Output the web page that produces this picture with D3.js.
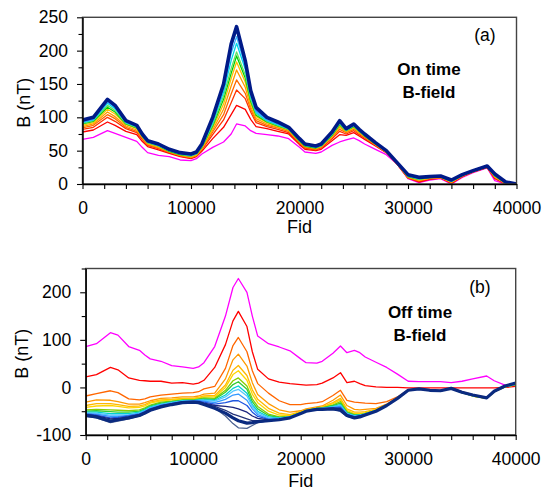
<!DOCTYPE html>
<html>
<head>
<meta charset="utf-8">
<script src="https://cdnjs.cloudflare.com/ajax/libs/d3/7.8.5/d3.min.js"></script>
<style>
body { margin: 0; background: #fff; }
svg text { font-family: "Liberation Sans", Arial, sans-serif; fill: #000; }
</style>
</head>
<body>
<script>
// fiducial positions the curves were read at (both panels share them)
var fid = [0,1000,2300,3000,4000,5000,5500,6000,7000,8000,
           9000,10000,10500,11000,12000,13000,13700,14200,15000,15500,
           16000,17000,18000,19000,20000,20500,21500,22000,23000,23700,
           24300,25000,25500,26000,27000,28000,29000,30000,31000,32000,
           33000,34000,35000,36000,37300,38000,39000,40000];

// (a) on time B-field, earliest channel (magenta) to latest (navy)
var onMagenta = [67,70,80,76,70,64,55,47,43,41, 36,35,38,45,55,63,75,90,87,80, 76,74,72,68,55,48,46,48,58,63, 66,69,65,60,52,44,30,8,2,6, 8,0,10,17,24,5,0,0];
var onRed     = [78,81,93,88,79,74,64,56,51,46, 41,38,41,49,68,85,104,118,112,97, 86,83,79,75,59,52,50,52,65,74, 73,77,72,67,57,47,30,9,3,7, 9,1,11,18,25,8,0,0];
var onRed2    = [82,85,100,94,83,77,67,58,53,47, 42,39,42,51,74,96,122,141,128,108, 92,86,82,77,61,54,51,54,68,79, 75,80,74,69,58,47,30,9,4,8, 9,2,11,18,25,9,1,0];
var onOrange  = [84,88,104,98,85,79,69,59,54,48, 43,40,43,52,78,104,135,156,136,112, 95,88,84,79,62,55,52,55,70,82, 77,82,76,70,59,48,30,10,5,8, 10,2,12,18,25,10,1,0];
var onOrange2 = [86,90,108,101,87,81,70,60,55,48, 43,40,43,53,81,112,147,171,145,116, 98,90,85,80,63,56,53,56,71,85, 78,84,77,71,59,48,31,10,6,9, 10,3,12,19,26,11,1,0];
var onYellow  = [88,92,112,105,89,83,71,61,56,49, 44,41,44,54,84,120,158,183,153,120, 101,92,86,81,64,57,54,56,72,87, 79,85,78,72,60,48,31,11,6,9, 10,3,12,19,26,11,1,0];
var onGreen   = [90,94,115,108,90,84,72,62,57,49, 44,42,45,55,87,127,166,192,159,124, 103,93,87,82,64,57,54,57,73,89, 80,86,79,72,60,49,31,11,7,10, 11,4,13,19,26,12,2,0];
var onGreen2  = [91,95,118,110,91,85,72,62,57,50, 45,42,45,56,89,132,173,198,164,127, 105,94,88,82,65,58,55,57,74,90, 80,87,79,73,61,49,31,12,7,10, 11,4,13,19,26,12,2,0];
var onCyan    = [92,96,121,113,92,86,73,63,58,50, 45,43,46,57,92,138,185,211,172,131, 107,95,89,83,66,58,55,58,75,92, 81,88,80,73,61,49,31,12,8,10, 11,4,13,20,26,13,2,0];
var onSky     = [93,97,123,115,93,87,74,63,58,51, 46,43,46,58,95,143,196,221,177,134, 109,96,90,84,66,59,56,58,76,93, 82,88,81,74,61,49,32,13,8,11, 12,5,14,20,27,13,2,0];
var onBlue    = [94,98,125,116,94,87,74,64,59,51, 46,44,47,59,97,146,205,230,181,137, 111,98,91,84,67,59,56,59,77,94, 82,89,81,74,62,50,32,13,9,11, 12,5,14,20,27,14,3,0];
var onNavy    = [96,100,127,118,95,88,75,65,60,52, 47,45,48,60,100,150,210,236,185,140, 115,100,93,85,68,60,57,60,78,95, 83,90,82,75,62,50,32,14,10,11, 12,6,14,20,27,15,3,0];

// (b) off time B-field
var offMagenta = [86,92,115,110,86,78,68,60,55,46, 43,40,43,52,86,150,210,229,200,150, 108,92,85,77,60,52,51,55,72,87, 73,78,73,64,53,42,28,13,12,12, 12,10,13,18,24,14,5,5];
var offRed     = [22,27,42,37,20,15,14,13,13,9, 10,7,9,15,42,90,140,160,128,75, 38,18,11,8,6,5,6,9,20,31, 10,13,8,4,1,0,0,-1,-1,-1, -1,-1,-1,-1,-1,-1,0,2];
var offOrange  = [-18,-13,-7,-11,-24,-26,-24,-20,-16,-14, -12,-11,-9,-3,2,40,88,105,75,35, 8,-12,-28,-36,-36,-34,-32,-30,-17,-6, -27,-31,-32,-33,-34,-30,-20,-5,-2,-5, -6,-1,-9,-15,-21,-7,2,7];
var offOrange2 = [-31,-26,-27,-30,-35,-35,-32,-28,-23,-22, -20,-20,-18,-14,-12,18,58,70,45,10, -15,-34,-47,-52,-49,-45,-41,-39,-27,-16, -38,-46,-47,-46,-44,-35,-22,-6,-3,-6, -7,-2,-10,-17,-22,-8,2,7];
var offOrange3 = [-38,-34,-34,-36,-40,-39,-36,-31,-26,-25, -23,-23,-21,-18,-17,5,36,46,25,-5, -25,-44,-54,-57,-51,-47,-43,-41,-32,-23, -45,-52,-52,-51,-46,-36,-22,-6,-3,-6, -7,-2,-11,-18,-23,-9,1,6];
var offYellow  = [-42,-39,-38,-40,-43,-42,-39,-33,-28,-26, -24,-24,-22,-20,-20,0,27,35,15,-14, -32,-50,-58,-59,-52,-48,-43,-42,-34,-26, -48,-55,-55,-53,-47,-36,-23,-6,-3,-6, -7,-2,-11,-18,-23,-9,1,6];
var offGreen   = [-47,-46,-47,-48,-49,-47,-43,-37,-31,-29, -26,-26,-24,-22,-23,-6,14,20,3,-24, -40,-56,-62,-61,-53,-48,-44,-43,-37,-30, -51,-57,-57,-55,-48,-37,-23,-6,-3,-6, -7,-2,-11,-18,-23,-9,1,6];
var offGreen2  = [-50,-49,-51,-52,-52,-50,-45,-39,-33,-30, -27,-27,-25,-24,-25,-10,6,12,-4,-30, -45,-59,-63,-62,-53,-49,-44,-43,-38,-33, -53,-58,-58,-55,-48,-37,-23,-6,-3,-6, -7,-2,-11,-17,-23,-9,1,6];
var offCyan    = [-52,-52,-55,-55,-55,-52,-47,-41,-35,-31, -28,-28,-26,-26,-27,-16,-2,3,-12,-36, -50,-62,-64,-62,-54,-49,-44,-44,-40,-36, -54,-59,-58,-56,-48,-37,-23,-6,-3,-6, -7,-2,-11,-17,-22,-8,2,7];
var offSky     = [-54,-54,-58,-58,-57,-54,-49,-43,-36,-32, -29,-28,-27,-27,-29,-20,-8,-4,-18,-40, -53,-64,-65,-62,-54,-49,-45,-44,-41,-38, -55,-60,-59,-56,-49,-37,-23,-6,-3,-6, -7,-2,-11,-17,-22,-8,2,7];
var offBlue    = [-55,-56,-61,-61,-59,-55,-50,-44,-37,-33, -30,-29,-28,-29,-32,-25,-16,-14,-27,-45, -57,-66,-66,-62,-54,-49,-45,-44,-42,-40, -56,-61,-59,-56,-49,-37,-23,-6,-3,-6, -7,-2,-10,-16,-22,-8,2,8];
var offBlue2   = [-56,-58,-64,-63,-60,-56,-51,-45,-38,-34, -30,-29,-29,-31,-35,-32,-28,-28,-38,-52, -61,-67,-66,-63,-54,-50,-45,-45,-43,-42, -57,-62,-60,-57,-49,-37,-23,-6,-3,-6, -7,-2,-10,-16,-22,-8,3,8];
var offNavy1   = [-57,-60,-66,-65,-62,-57,-52,-46,-39,-35, -31,-30,-30,-33,-38,-40,-42,-45,-52,-60, -65,-68,-67,-63,-55,-50,-45,-45,-44,-44, -58,-63,-60,-57,-49,-38,-23,-6,-3,-6, -7,-2,-10,-16,-22,-8,3,8];
var offNavy2   = [-59,-62,-69,-67,-63,-58,-53,-47,-40,-35, -31,-30,-31,-34,-40,-48,-56,-60,-66,-70, -70,-69,-67,-63,-55,-50,-46,-46,-45,-47, -59,-64,-61,-57,-50,-38,-23,-6,-3,-6, -7,-2,-10,-16,-22,-8,3,9];
var offNavy3   = [-61,-64,-74,-71,-66,-60,-55,-49,-41,-36, -32,-31,-32,-36,-43,-60,-76,-85,-86,-80, -74,-70,-68,-64,-55,-50,-46,-46,-46,-50, -61,-65,-62,-58,-50,-38,-23,-6,-3,-6, -7,-2,-10,-16,-22,-8,3,9];
var offNavy    = [-59,-62,-71,-68,-64,-59,-54,-48,-41,-36, -32,-31,-32,-36,-44,-54,-64,-70,-75,-74, -72,-70,-68,-64,-55,-50,-46,-46,-45,-48, -59,-64,-62,-58,-50,-38,-23,-6,-3,-6, -7,-2,-10,-16,-22,-8,3,9];

// tick values
var fidTicks = d3.range(0, 40001, 2000);
var onTicks = d3.range(0, 251, 25);
var offTicks = d3.range(-100, 251, 50);

var svg = d3.select('body').append('svg')
    .attr('width', 542).attr('height', 493)
    .style('display', 'block');

function drawPanel(cfg){
    var x = d3.scaleLinear().domain([0, 40000]).range([cfg.left, cfg.right]);
    var y = d3.scaleLinear().domain(cfg.yDomain).range([cfg.bottom, cfg.top]);
    var g = svg.append('g');

    var line = d3.line()
        .x(function(d, i){ return x(fid[i]); })
        .y(function(d){ return y(d); });

    // clip so the thick line does not spill over the frame
    var clipId = 'clip' + cfg.name;
    g.append('clipPath').attr('id', clipId).append('rect')
        .attr('x', cfg.left).attr('y', cfg.top)
        .attr('width', cfg.right - cfg.left).attr('height', cfg.bottom - cfg.top);

    var lines = g.append('g').attr('clip-path', 'url(#' + clipId + ')');
    cfg.series.forEach(function(s){
        lines.append('path')
            .attr('d', line(s.values))
            .attr('fill', 'none')
            .attr('stroke', s.color)
            .attr('stroke-width', s.width || 1.3)
            .attr('stroke-linejoin', 'round');
    });

    // frame
    g.append('rect')
        .attr('x', cfg.left).attr('y', cfg.top)
        .attr('width', cfg.right - cfg.left).attr('height', cfg.bottom - cfg.top)
        .attr('fill', 'none').attr('stroke', '#444').attr('stroke-width', 1.4);

    var xAxis = g.append('g')
        .attr('transform', 'translate(0,' + cfg.bottom + ')')
        .call(d3.axisBottom(x).tickValues(fidTicks).tickSize(5).tickSizeOuter(0).tickPadding(12)
            .tickFormat(function(d){ return d % 10000 === 0 ? d : ''; }));

    var yAxis = g.append('g')
        .attr('transform', 'translate(' + cfg.left + ',0)')
        .call(d3.axisLeft(y).tickValues(cfg.yTicks).tickSize(5.5).tickSizeOuter(0).tickPadding(9)
            .tickFormat(function(d){ return d % cfg.yLabelStep === 0 ? d : ''; }));
    yAxis.selectAll('.tick').filter(function(d){ return d % cfg.yLabelStep !== 0; })
        .select('line').attr('x2', -4);

    [xAxis, yAxis].forEach(function(a){
        a.attr('font-family', null).attr('font-size', null);
        a.select('.domain').attr('stroke', '#000').attr('stroke-width', 1.4);
        a.selectAll('.tick line').attr('stroke', '#000').attr('stroke-width', 1.1);
        a.selectAll('.tick text').style('font-size', '17.5px');
    });
    xAxis.selectAll('.tick text').attr('dy', null).attr('y', 33.5 - 4);

    g.append('text')
        .attr('x', (cfg.left + cfg.right) / 2).attr('y', cfg.fidY)
        .attr('text-anchor', 'middle').style('font-size', '18px')
        .text('Fid');

    g.append('text')
        .attr('transform', 'translate(' + cfg.bLabelX + ',' + ((cfg.top + cfg.bottom) / 2 + 2) + ') rotate(-90)')
        .attr('text-anchor', 'middle').style('font-size', '18px')
        .text('B (nT)');

    g.append('text')
        .attr('x', cfg.tagX).attr('y', cfg.tagY)
        .attr('text-anchor', 'middle').style('font-size', '17.5px')
        .text(cfg.tag);

    cfg.title.forEach(function(t, i){
        g.append('text')
            .attr('x', cfg.titleX).attr('y', cfg.titleY + i * 23)
            .attr('text-anchor', 'middle').style('font-size', '17px').style('font-weight', 'bold')
            .text(t);
    });
}

var onColors = ['#ff00ff','#ff0000','#ff3300','#ff6a00','#ff9900','#ffbf00',
                '#00d000','#66e060','#00d8e8','#33b0ff','#2a6cf0','#001a88'];
var onSeries = [onMagenta, onRed, onRed2, onOrange, onOrange2, onYellow,
                onGreen, onGreen2, onCyan, onSky, onBlue, onNavy].map(function(v, i){
    return {values: v, color: onColors[i], width: i === 11 ? 3.6 : 1.3};
});

var offColors = ['#ff00ff','#ff0000','#ff6600','#ff9900','#ffb800','#ffd500',
                 '#88cc00','#33cc33','#00d0d0','#55c8ff','#3399ff','#1f55e0',
                 '#1a237e','#26357a','#4a6090','#0a2a80'];
var offSeries = [offMagenta, offRed, offOrange, offOrange2, offOrange3, offYellow,
                 offGreen, offGreen2, offCyan, offSky, offBlue, offBlue2,
                 offNavy1, offNavy2, offNavy3, offNavy].map(function(v, i){
    return {values: v, color: offColors[i], width: i === 15 ? 3.2 : 1.3};
});

drawPanel({name: 'a', left: 82.5, right: 516.5, top: 17.3, bottom: 184,
           yDomain: [0, 250], yTicks: onTicks, yLabelStep: 50,
           series: onSeries, fidY: 233, bLabelX: 30,
           tag: '(a)', tagX: 485, tagY: 41,
           title: ['On time', 'B-field'], titleX: 429, titleY: 75});

drawPanel({name: 'b', left: 85.7, right: 515.7, top: 268.5, bottom: 435,
           yDomain: [-100, 250], yTicks: offTicks, yLabelStep: 100,
           series: offSeries, fidY: 487, bLabelX: 28,
           tag: '(b)', tagX: 480, tagY: 293,
           title: ['Off time', 'B-field'], titleX: 420, titleY: 318});
</script>
</body>
</html>
